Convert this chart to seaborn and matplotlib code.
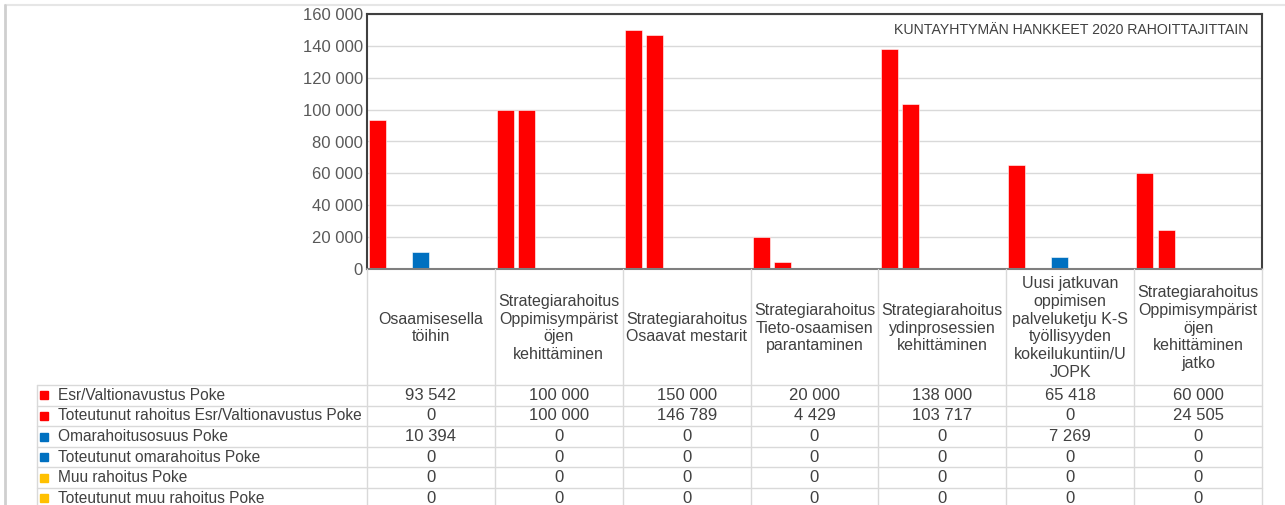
import pandas as pd
import seaborn as sns
import matplotlib.pyplot as plt
from matplotlib.lines import Line2D

# Data
projects = [
    "Osaamisesella\ntöihin",
    "Strategiarahoitus\nOppimisympärist\nöjen\nkehittäminen",
    "Strategiarahoitus\nOsaavat mestarit",
    "Strategiarahoitus\nTieto-osaamisen\nparantaminen",
    "Strategiarahoitus\nydinprosessien\nkehittäminen",
    "Uusi jatkuvan\noppimisen\npalveluketju K-S\ntyöllisyyden\nkokeilukuntiin/U\nJOPK",
    "Strategiarahoitus\nOppimisympärist\nöjen\nkehittäminen\njatko",
]
series = [
    "Esr/Valtionavustus Poke",
    "Toteutunut rahoitus Esr/Valtionavustus Poke",
    "Omarahoitusosuus Poke",
    "Toteutunut omarahoitus Poke",
    "Muu rahoitus Poke",
    "Toteutunut muu rahoitus Poke",
]
esr = [93542, 100000, 150000, 20000, 138000, 65418, 60000]
esr_toteutunut = [0, 100000, 146789, 4429, 103717, 0, 24505]
oma = [10394, 0, 0, 0, 0, 7269, 0]
oma_toteutunut = [0, 0, 0, 0, 0, 0, 0]
muu = [0, 0, 0, 0, 0, 0, 0]
muu_toteutunut = [0, 0, 0, 0, 0, 0, 0]
colors = ["#FF0000", "#FF0000", "#0070C0", "#0070C0", "#FFC000", "#FFC000"]
title = "KUNTAYHTYMÄN HANKKEET 2020 RAHOITTAJITTAIN"

values = [esr, esr_toteutunut, oma, oma_toteutunut, muu, muu_toteutunut]
df = pd.DataFrame(
    [(p, s, v[i]) for s, v in zip(series, values) for i, p in enumerate(projects)],
    columns=["Hanke", "Sarja", "Euroa"],
)


def fmt(v):
    return f"{v:,}".replace(",", " ")


sns.set_style("white")
plt.rcParams["font.family"] = ["Liberation Sans", "DejaVu Sans"]
text_col = "#404040"

W, H = 1285, 505
fig = plt.figure(figsize=(W / 100, H / 100), dpi=100)
left, right, top, axis_y = 367, 1262, 14, 269
ax = fig.add_axes([left / W, 1 - axis_y / H, (right - left) / W, (axis_y - top) / H])

sns.barplot(data=df, x="Hanke", y="Euroa", hue="Sarja", order=projects, hue_order=series,
            palette=colors, saturation=1, width=1.0, gap=0.2, errorbar=None,
            legend=False, edgecolor="white", linewidth=0.4, ax=ax)

ax.set_xlim(-0.5, len(projects) - 0.5)
ax.set_ylim(0, 160000)
yt = list(range(0, 160001, 20000))
ax.set_yticks(yt)
ax.set_yticklabels([fmt(v) for v in yt], color="#595959", fontsize=12)
ax.tick_params(axis="y", length=0, pad=3)
ax.tick_params(axis="x", length=0, labelbottom=False)
ax.set_xlabel("")
ax.set_ylabel("")
ax.yaxis.grid(True, color="#d9d9d9", linewidth=1)
ax.set_axisbelow(True)
for sp in ax.spines.values():
    sp.set_visible(True)
    sp.set_color("#404040")
    sp.set_linewidth(1.5)
ax.spines["bottom"].set_color("#7f7f7f")
ax.text(0.985, 0.965, title, transform=ax.transAxes, ha="right", va="top",
        fontsize=10.2, color=text_col)

# Data table below the chart (y in pixels from the top of the figure)
tab = fig.add_axes([left / W, 0, (right - left) / W, (H - axis_y) / H])
tab.set_xlim(-0.5, len(projects) - 0.5)
tab.set_ylim(H, axis_y)
tab.axis("off")
px = (right - left) / len(projects)
leg_left = -0.5 - (left - 37) / px
grid_col = "#d9d9d9"

head_bottom = 385
row_h = 20.6
for i, p in enumerate(projects):
    tab.text(i, (axis_y + head_bottom) / 2 + 1, p, ha="center", va="center",
             fontsize=11.5, color=text_col, linespacing=1.22)
for i in range(len(projects) + 1):
    tab.plot([i - 0.5, i - 0.5], [axis_y, H], color=grid_col, lw=1, clip_on=False)
tab.plot([leg_left, leg_left], [head_bottom, H], color=grid_col, lw=1, clip_on=False)
for r in range(len(series)):
    tab.plot([leg_left, len(projects) - 0.5], [head_bottom + r * row_h] * 2,
             color=grid_col, lw=1, clip_on=False)
for r, (s, v, c) in enumerate(zip(series, values, colors)):
    yc = head_bottom + (r + 0.5) * row_h
    tab.plot([leg_left + 7 / px], [yc], marker="s", ms=5.5, color=c, clip_on=False)
    tab.text(leg_left + 21 / px, yc, s, ha="left", va="center", fontsize=11.2,
             color=text_col)
    for i, val in enumerate(v):
        tab.text(i, yc, fmt(val), ha="center", va="center", fontsize=12,
                 color=text_col)

# light outer frame of the chart object
fig.add_artist(Line2D([5 / W, 1], [1 - 5 / H, 1 - 5 / H], transform=fig.transFigure,
                      color="#e6e6e6", lw=1.5))
fig.add_artist(Line2D([5 / W, 5 / W], [0, 1 - 5 / H], transform=fig.transFigure,
                      color="#cfcfcf", lw=2))

fig.savefig("out.png", dpi=100)
